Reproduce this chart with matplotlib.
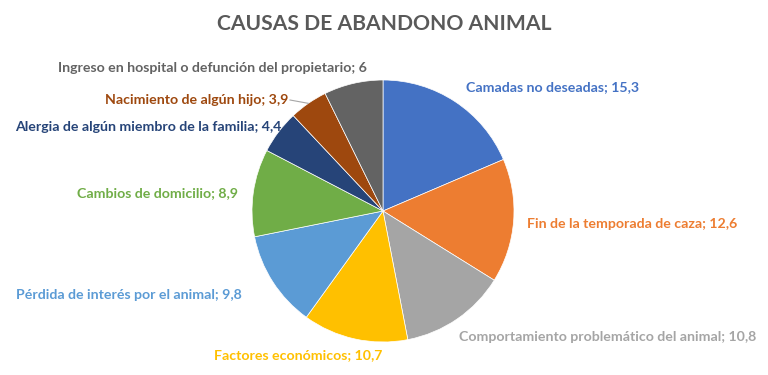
import matplotlib
matplotlib.use("Agg")
import matplotlib.pyplot as plt
import numpy as np

categories = [
    "Camadas no deseadas",
    "Fin de la temporada de caza",
    "Comportamiento problemático del animal",
    "Factores económicos",
    "Pérdida de interés por el animal",
    "Cambios de domicilio",
    "Alergia de algún miembro de la familia",
    "Nacimiento de algún hijo",
    "Ingreso en hospital o defunción del propietario",
]
values = [15.3, 12.6, 10.8, 10.7, 9.8, 8.9, 4.4, 3.9, 6]
value_labels = ["15,3", "12,6", "10,8", "10,7", "9,8", "8,9", "4,4", "3,9", "6"]
colors = ["#4472C4", "#ED7D31", "#A5A5A5", "#FFC000", "#5B9BD5",
          "#70AD47", "#264478", "#9E480E", "#636363"]

W, H = 768, 375
fig = plt.figure(figsize=(W / 100, H / 100), dpi=100)
ax = fig.add_axes([0, 0, 1, 1])

cx, cy, R = 383, H - 211, 131
wedges, _ = ax.pie(values, colors=colors, startangle=90, counterclock=False,
                   center=(cx, cy), radius=R, frame=True,
                   wedgeprops=dict(edgecolor="white", linewidth=0.5))
ax.set_xlim(0, W)
ax.set_ylim(0, H)
ax.set_aspect("equal")
ax.axis("off")

FONT = "Lato"
# label anchor positions (x, y in pixel coords from top), alignment
label_pos = [
    (466, 87, "left"),
    (527, 224, "left"),
    (459, 337, "left"),
    (298, 355, "center"),
    (242, 295, "right"),
    (238, 193, "right"),
    (281, 127, "right"),
    (288, 100, "right"),
    (367, 68, "right"),
]
for cat, vl, col, (x, y, ha) in zip(categories, value_labels, colors, label_pos):
    ax.text(x, H - y, f"{cat}; {vl}", color=col, fontsize=10.2, fontweight="bold",
            family=FONT, ha=ha, va="center")

# leader line for "Nacimiento de algún hijo"
w = wedges[7]
mid = np.deg2rad((w.theta1 + w.theta2) / 2)
ex, ey = cx + R * np.cos(mid), cy + R * np.sin(mid)
ax.plot([290, ex], [H - 100, ey], color="#A6A6A6", lw=0.8)

fig.text(384.5 / W, 1 - 24 / H, "CAUSAS DE ABANDONO ANIMAL", ha="center", va="center",
         fontsize=15.2, fontweight="bold", color="#595959", family=FONT)

fig.savefig("out.png", dpi=100, facecolor="white")
